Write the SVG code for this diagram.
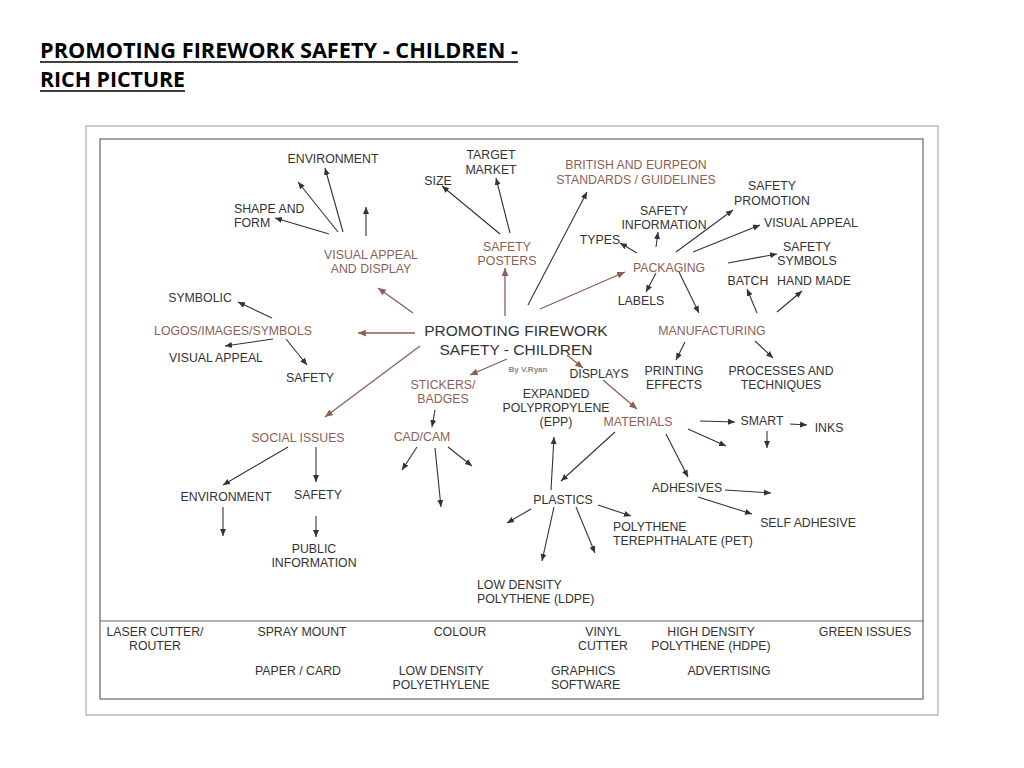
<svg xmlns="http://www.w3.org/2000/svg" width="1024" height="768" viewBox="0 0 1024 768">
<defs>
<style>
.t{font-family:"Liberation Sans",Arial,sans-serif;font-size:12.3px;fill:#333;text-anchor:middle}
.s{text-anchor:start}
.b{fill:#8c5f55}
.main{font-size:15.5px}
.by{font-size:8px;fill:#888;font-weight:bold}
.ttl{font-family:"Open Sans","Liberation Sans",Arial,sans-serif;font-weight:bold;font-size:22px;fill:#000}
.d{stroke:#333;stroke-width:1.1;fill:none;marker-end:url(#ad)}
.r{stroke:#8c5f55;stroke-width:1.3;fill:none;marker-end:url(#ar)}
</style>
<marker id="ad" markerUnits="userSpaceOnUse" markerWidth="8" markerHeight="8" viewBox="0 0 8 8" refX="7" refY="4" orient="auto"><path d="M0,1 L7,4 L0,7 Z" fill="#333"/></marker>
<marker id="ar" markerUnits="userSpaceOnUse" markerWidth="9" markerHeight="9" viewBox="0 0 8 8" refX="7" refY="4" orient="auto"><path d="M0,1 L7,4 L0,7 Z" fill="#8c5f55"/></marker>
</defs>
<rect width="1024" height="768" fill="#fff"/>
<g id="title">
<text class="ttl" x="40" y="58" textLength="478" lengthAdjust="spacingAndGlyphs">PROMOTING FIREWORK SAFETY - CHILDREN -</text>
<text class="ttl" x="40" y="87" textLength="145" lengthAdjust="spacingAndGlyphs">RICH PICTURE</text>
<line x1="40" y1="62" x2="518" y2="62" stroke="#000" stroke-width="1.5"/>
<line x1="40" y1="91" x2="185" y2="91" stroke="#000" stroke-width="1.5"/>
</g>
<g id="frame">
<rect x="86" y="126" width="852" height="589" fill="#fff" stroke="#999" stroke-width="1"/>
<rect x="100" y="139" width="823" height="560" fill="none" stroke="#666" stroke-width="1.2"/>
<line x1="100" y1="621" x2="923" y2="621" stroke="#666" stroke-width="1.2"/>
</g>
<g id="connectors">
<path class="r" d="M413,313 L378,288"/>
<path class="r" d="M415,333 L358,333"/>
<path class="r" d="M420,346 L325,417"/>
<path class="r" d="M505,316 L505,268"/>
<path class="d" d="M528,305 L587,192"/>
<path class="r" d="M540,309 L625,272"/>
<path class="r" d="M507,359 L470,375"/>
<path class="r" d="M567,355 L583,368"/>
<path class="r" d="M603,380 L637,409"/>
<path class="d" d="M338,232 L298,182"/>
<path class="d" d="M343,232 L325,168"/>
<path class="d" d="M366,236 L366,207"/>
<path class="d" d="M329,234 L275,218"/>
<path class="d" d="M500,234 L442,186"/>
<path class="d" d="M510,233 L496,178"/>
<path class="d" d="M637,253 L620,243"/>
<path class="d" d="M656,247 L658,232"/>
<path class="d" d="M656,273 L646,292"/>
<path class="d" d="M676,252 L733,210"/>
<path class="d" d="M693,252 L760,225"/>
<path class="d" d="M728,263 L777,254"/>
<path class="d" d="M679,272 L699,313"/>
<path class="d" d="M757,313 L747,289"/>
<path class="d" d="M777,312 L802,291"/>
<path class="d" d="M685,342 L676,360"/>
<path class="d" d="M755,341 L773,358"/>
<path class="d" d="M272,318 L238,302"/>
<path class="d" d="M273,339 L225,346"/>
<path class="d" d="M286,339 L307,365"/>
<path class="d" d="M288,447 L223,485"/>
<path class="d" d="M316,447 L316,482"/>
<path class="d" d="M223,507 L223,536"/>
<path class="d" d="M316,516 L316,537"/>
<path class="d" d="M435,410 L432,427"/>
<path class="d" d="M417,447 L402,470"/>
<path class="d" d="M435,448 L441,507"/>
<path class="d" d="M448,447 L472,466"/>
<path class="d" d="M615,432 L561,481"/>
<path class="d" d="M666,434 L688,477"/>
<path class="d" d="M700,421 L735,422"/>
<path class="d" d="M688,429 L726,446"/>
<path class="d" d="M790,424 L807,425"/>
<path class="d" d="M767,431 L767,448"/>
<path class="d" d="M725,490 L771,493"/>
<path class="d" d="M698,497 L752,514"/>
<path class="d" d="M551,490 L554,437"/>
<path class="d" d="M531,509 L507,523"/>
<path class="d" d="M554,507 L542,561"/>
<path class="d" d="M576,507 L595,553"/>
<path class="d" d="M598,505 L631,516"/>
</g>
<g id="centre"><text class="t main" x="516" y="336">PROMOTING FIREWORK</text><text class="t main" x="516" y="355">SAFETY - CHILDREN</text><text class="t by" x="528" y="372">By V.Ryan</text></g>
<g id="environment-top"><text class="t" x="333" y="163">ENVIRONMENT</text></g>
<g id="target-market"><text class="t" x="491" y="159">TARGET</text><text class="t" x="491" y="174">MARKET</text></g>
<g id="size"><text class="t" x="438" y="185">SIZE</text></g>
<g id="british-standards"><text class="t b" x="636" y="169">BRITISH AND EURPEON</text><text class="t b" x="636" y="184">STANDARDS / GUIDELINES</text></g>
<g id="safety-promotion"><text class="t" x="772" y="190">SAFETY</text><text class="t" x="772" y="205">PROMOTION</text></g>
<g id="shape-form"><text class="t s" x="234" y="213">SHAPE AND</text><text class="t s" x="234" y="227">FORM</text></g>
<g id="safety-information"><text class="t" x="664" y="215">SAFETY</text><text class="t" x="664" y="229">INFORMATION</text></g>
<g id="visual-appeal-right"><text class="t s" x="764" y="227">VISUAL APPEAL</text></g>
<g id="types"><text class="t" x="600" y="244">TYPES</text></g>
<g id="safety-symbols"><text class="t" x="807" y="251">SAFETY</text><text class="t" x="807" y="265">SYMBOLS</text></g>
<g id="visual-appeal-display"><text class="t b" x="371" y="259">VISUAL APPEAL</text><text class="t b" x="371" y="273">AND DISPLAY</text></g>
<g id="safety-posters"><text class="t b" x="507" y="251">SAFETY</text><text class="t b" x="507" y="265">POSTERS</text></g>
<g id="packaging"><text class="t b" x="669" y="272">PACKAGING</text></g>
<g id="batch"><text class="t" x="748" y="285">BATCH</text></g>
<g id="hand-made"><text class="t" x="814" y="285">HAND MADE</text></g>
<g id="symbolic"><text class="t" x="200" y="302">SYMBOLIC</text></g>
<g id="labels"><text class="t" x="641" y="305">LABELS</text></g>
<g id="logos"><text class="t b" x="233" y="335">LOGOS/IMAGES/SYMBOLS</text></g>
<g id="manufacturing"><text class="t b" x="712" y="335">MANUFACTURING</text></g>
<g id="visual-appeal-left"><text class="t" x="216" y="362">VISUAL APPEAL</text></g>
<g id="displays"><text class="t" x="599" y="378">DISPLAYS</text></g>
<g id="printing-effects"><text class="t" x="674" y="375">PRINTING</text><text class="t" x="674" y="389">EFFECTS</text></g>
<g id="processes"><text class="t" x="781" y="375">PROCESSES AND</text><text class="t" x="781" y="389">TECHNIQUES</text></g>
<g id="safety-logos"><text class="t" x="310" y="382">SAFETY</text></g>
<g id="stickers"><text class="t b" x="443" y="389">STICKERS/</text><text class="t b" x="443" y="403">BADGES</text></g>
<g id="epp"><text class="t" x="556" y="398">EXPANDED</text><text class="t" x="556" y="412">POLYPROPYLENE</text><text class="t" x="556" y="426">(EPP)</text></g>
<g id="materials"><text class="t b" x="638" y="426">MATERIALS</text></g>
<g id="smart"><text class="t" x="762" y="425">SMART</text></g>
<g id="inks"><text class="t" x="829" y="432">INKS</text></g>
<g id="cadcam"><text class="t b" x="422" y="441">CAD/CAM</text></g>
<g id="social-issues"><text class="t b" x="298" y="442">SOCIAL ISSUES</text></g>
<g id="adhesives"><text class="t" x="687" y="492">ADHESIVES</text></g>
<g id="environment-low"><text class="t" x="226" y="501">ENVIRONMENT</text></g>
<g id="safety-social"><text class="t" x="318" y="499">SAFETY</text></g>
<g id="plastics"><text class="t" x="563" y="504">PLASTICS</text></g>
<g id="self-adhesive"><text class="t" x="808" y="527">SELF ADHESIVE</text></g>
<g id="pet"><text class="t s" x="613" y="531">POLYTHENE</text><text class="t s" x="613" y="545">TEREPHTHALATE (PET)</text></g>
<g id="public-information"><text class="t" x="314" y="553">PUBLIC</text><text class="t" x="314" y="567">INFORMATION</text></g>
<g id="ldpe"><text class="t s" x="477" y="589">LOW DENSITY</text><text class="t s" x="477" y="603">POLYTHENE (LDPE)</text></g>
<g id="laser-cutter"><text class="t" x="155" y="636">LASER CUTTER/</text><text class="t" x="155" y="650">ROUTER</text></g>
<g id="spray-mount"><text class="t" x="302" y="636">SPRAY MOUNT</text></g>
<g id="colour"><text class="t" x="460" y="636">COLOUR</text></g>
<g id="vinyl-cutter"><text class="t" x="603" y="636">VINYL</text><text class="t" x="603" y="650">CUTTER</text></g>
<g id="hdpe"><text class="t" x="711" y="636">HIGH DENSITY</text><text class="t" x="711" y="650">POLYTHENE (HDPE)</text></g>
<g id="green-issues"><text class="t" x="865" y="636">GREEN ISSUES</text></g>
<g id="paper-card"><text class="t" x="298" y="675">PAPER / CARD</text></g>
<g id="ldpe-bottom"><text class="t" x="441" y="675">LOW DENSITY</text><text class="t" x="441" y="689">POLYETHYLENE</text></g>
<g id="graphics-software"><text class="t s" x="551" y="675">GRAPHICS</text><text class="t s" x="551" y="689">SOFTWARE</text></g>
<g id="advertising"><text class="t" x="729" y="675">ADVERTISING</text></g>
</svg>
